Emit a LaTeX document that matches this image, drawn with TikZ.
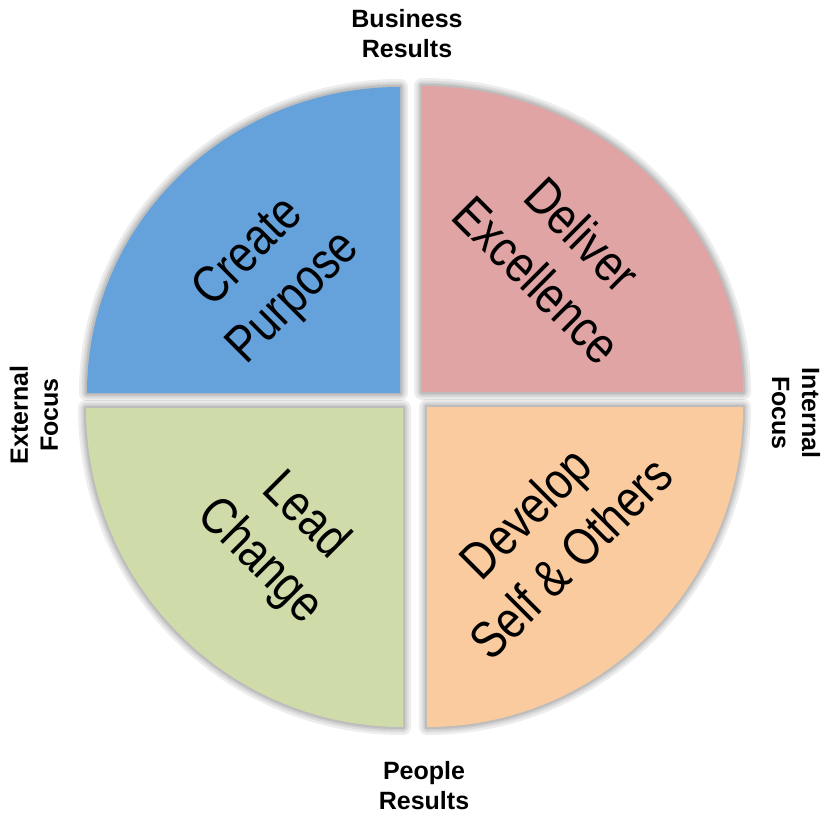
\documentclass[tikz,border=0pt]{standalone}
\usepackage{fontspec}
\setmainfont{Liberation Sans}
\newfontfamily\quadfont[FakeStretch=0.84]{Liberation Sans}
\definecolor{cpblue}{RGB}{101,161,219}
\definecolor{depink}{RGB}{225,164,164}
\definecolor{lcgreen}{RGB}{207,219,169}
\definecolor{dsorange}{RGB}{250,203,158}
\tikzset{
  quadtext/.style={align=center, text=black, inner sep=0pt,
    font=\quadfont\fontsize{52}{64}\selectfont},
  axislabel/.style={align=center, text=black, inner sep=0pt,
    font=\bfseries\fontsize{25}{30}\selectfont},
  glow/.style={draw=black, opacity=0.07, line join=round},
}
\def\pathBlue{(400,393) -- (400,87) arc[start angle=270, end angle=180, x radius=313, y radius=306] -- cycle}
\def\pathPink{(422,392) -- (422,86) arc[start angle=270, end angle=360, x radius=321, y radius=306] -- cycle}
\def\pathGreen{(403,408) -- (86,408) arc[start angle=180, end angle=90, x radius=317, y radius=319] -- cycle}
\def\pathOrange{(427,407) -- (743,407) arc[start angle=0, end angle=90, x radius=316, y radius=320] -- cycle}
\begin{document}
\begin{tikzpicture}[x=1pt, y=-1pt]
\useasboundingbox (0,0) rectangle (835,817);
\fill[white] (0,0) rectangle (835,817);
% soft glow behind sectors
\foreach \w in {16,11,7,4} {
  \draw[glow, line width=\w pt] \pathBlue;
  \draw[glow, line width=\w pt] \pathPink;
  \draw[glow, line width=\w pt] \pathGreen;
  \draw[glow, line width=\w pt] \pathOrange;
}
\fill[cpblue] \pathBlue;
\fill[depink] \pathPink;
\fill[lcgreen] \pathGreen;
\fill[dsorange] \pathOrange;
% sector texts
\node[quadtext, rotate=45] (cp) at (272,276) {Create\\Purpose};
\node[quadtext, rotate=-45] (de) at (560,257) {Deliver\\Excellence};
\node[quadtext, rotate=-45] (lc) at (282,539) {Lead\\Change};
\node[quadtext, rotate=45] (ds) at (548,535) {Develop\\Self \& Others};
% axis labels
\node[axislabel] (br) at (407,34) {Business\\Results};
\node[axislabel] (pr) at (424,786) {People\\Results};
\node[axislabel, rotate=90] (ef) at (34,415) {External\\Focus};
\node[axislabel, rotate=-90] (if) at (796,413) {Internal\\Focus};
\end{tikzpicture}
\end{document}
